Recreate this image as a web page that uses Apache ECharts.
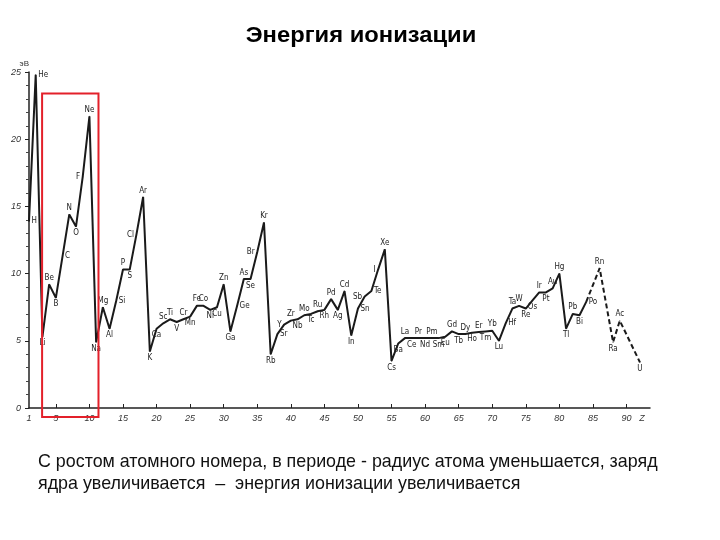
<!DOCTYPE html>
<html><head><meta charset="utf-8">
<script src="https://cdn.jsdelivr.net/npm/echarts@6/dist/echarts.min.js"></script>
<style>html,body{margin:0;padding:0;background:#fff}#c{width:720px;height:540px}</style>
</head><body><div id="c"></div>
<script>
// Element symbols Z = 1..84 (solid line)
var symbols = ['H','He','Li','Be','B','C','N','O','F','Ne','Na','Mg','Al','Si','P','S','Cl','Ar','K','Ca',
  'Sc','Ti','V','Cr','Mn','Fe','Co','Ni','Cu','Zn','Ga','Ge','As','Se','Br','Kr','Rb','Sr','Y','Zr',
  'Nb','Mo','Tc','Ru','Rh','Pd','Ag','Cd','In','Sn','Sb','Te','I','Xe','Cs','Ba','La','Ce','Pr','Nd',
  'Pm','Sm','Eu','Gd','Tb','Dy','Ho','Er','Tm','Yb','Lu','Hf','Ta','W','Re','Os','Ir','Pt','Au','Hg',
  'Tl','Pb','Bi','Po'];
// Ionization energy, eV
var energy = [13.9,24.8,5.3,9.2,8.2,11.3,14.4,13.5,17.2,21.7,4.9,7.5,5.9,8.0,10.3,10.3,12.9,15.7,4.2,5.9,
  6.3,6.6,6.4,6.6,6.8,7.6,7.6,7.3,7.5,9.2,5.7,7.6,9.6,9.6,11.6,13.8,4.0,5.5,6.2,6.5,
  6.6,6.9,7.0,7.2,7.3,8.1,7.3,8.7,5.4,7.4,8.3,8.7,10.3,11.8,3.5,4.8,5.2,5.2,5.2,5.2,
  5.2,5.2,5.3,5.7,5.5,5.5,5.6,5.65,5.7,5.75,5.0,6.3,7.4,7.6,7.4,8.0,8.6,8.6,8.9,10.0,
  5.9,7.0,6.9,7.9];
// Dashed part
var dashZ = [84, 86, 88, 89, 92];
var dashSymbols = ['', 'Rn', 'Ra', 'Ac', 'U'];
var dashEnergy = [7.9, 10.4, 4.9, 6.5, 3.4];
// Axis ticks
var xTicks = [5,10,15,20,25,30,35,40,45,50,55,60,65,70,75,80,85,90];
var xLabels = [1,5,10,15,20,25,30,35,40,45,50,55,60,65,70,75,80,85,90];
var title = 'Энергия ионизации';
var caption1 = 'С ростом атомного номера, в периоде - радиус атома уменьшается, заряд';
var caption2 = 'ядра увеличивается  –  энергия ионизации увеличивается';

// label placement (style)
var pos = {
  H:'right',He:'right',Li:'bottom',Be:'top',B:'bottom',C:'right',N:'top',O:'bottom',F:'left',Ne:'top',
  Na:'bottom',Mg:'top',Al:'bottom',Si:'right',P:'top',S:'bottom',Cl:'left',Ar:'top',K:'bottom',Ca:'bottom',
  Sc:'top',Ti:'top',V:'bottom',Cr:'top',Mn:'bottom',Fe:'top',Co:'top',Ni:'bottom',Cu:'bottom',Zn:'top',
  Ga:'bottom',Ge:'right',As:'top',Se:'bottom',Br:'left',Kr:'top',Rb:'bottom',Sr:'right',Y:'left',Zr:'top',
  Nb:'bottom',Mo:'top',Tc:'bottom',Ru:'top',Rh:'bottom',Pd:'top',Ag:'bottom',Cd:'top',In:'bottom',Sn:'right',
  Sb:'left',Te:'right',I:'left',Xe:'top',Cs:'bottom',Ba:'bottom',La:'top',Ce:'bottom',Pr:'top',Nd:'bottom',
  Pm:'top',Sm:'bottom',Eu:'bottom',Gd:'top',Tb:'bottom',Dy:'top',Ho:'bottom',Er:'top',Tm:'bottom',Yb:'top',
  Lu:'bottom',Hf:'right',Ta:'top',W:'top',Re:'bottom',Os:'bottom',Ir:'top',Pt:'bottom',Au:'top',Hg:'top',
  Tl:'bottom',Pb:'top',Bi:'bottom',Po:'right',Rn:'top',Ra:'bottom',Ac:'top',U:'bottom'
};

var solidData = energy.map(function(v,i){
  var s = symbols[i];
  return {value:[i+1, v], name:s, label:{position:pos[s]||'top'}};
});
var dashData = dashEnergy.map(function(v,i){
  var s = dashSymbols[i];
  return {value:[dashZ[i], v], name:s, label:{position:pos[s]||'top'}};
});

var labelStyle = {show:true, formatter:function(p){return p.name;}, fontSize:8, color:'#222',
  fontFamily:'DejaVu Sans Condensed, Liberation Sans Narrow, sans-serif', distance:2};

var chart = echarts.init(document.getElementById('c'), null, {renderer:'canvas'});
chart.setOption({
  animation:false,
  backgroundColor:'#fff',
  grid:{left:29, right:70, top:72, bottom:132},
  xAxis:{type:'value', min:1, max:93.5,
    axisLine:{lineStyle:{color:'#222', width:1.5}},
    axisTick:{show:true, inside:true, length:4, customValues:xTicks, lineStyle:{color:'#222'}},
    axisLabel:{customValues:xLabels.concat([92.3]), fontSize:9, fontStyle:'italic', color:'#333', margin:6,
      formatter:function(v){return v>91?'Z':String(v);}},
    splitLine:{show:false}},
  yAxis:{type:'value', min:0, max:25, interval:5, name:'эВ', nameGap:4,
    nameTextStyle:{fontSize:8, color:'#333', align:'right'},
    axisLine:{show:true, lineStyle:{color:'#222', width:1.5}},
    axisTick:{show:true, length:4, lineStyle:{color:'#222'}},
    minorTick:{show:true, splitNumber:5, length:3, lineStyle:{color:'#444'}},
    axisLabel:{fontSize:9, fontStyle:'italic', color:'#333', margin:8},
    splitLine:{show:false}},
  series:[
    {type:'line', data:solidData, symbol:'circle', symbolSize:1, showAllSymbol:true,
      itemStyle:{color:'#1a1a1a'}, lineStyle:{color:'#1a1a1a', width:2},
      label:labelStyle, labelLayout:{hideOverlap:false}},
    {type:'line', data:dashData, symbol:'circle', symbolSize:1, showAllSymbol:true,
      itemStyle:{color:'#1a1a1a'}, lineStyle:{color:'#1a1a1a', width:2, type:[5,3]},
      label:labelStyle, labelLayout:{hideOverlap:false}}
  ]
});

// Red highlight frame around period 2 (annotation)
var p1 = chart.convertToPixel({gridIndex:0}, [3.1, 23.4]);
var p2 = chart.convertToPixel({gridIndex:0}, [11.5, 0]);
chart.setOption({graphic:[
  {type:'text', x:361, y:36, scaleX:1.08, z:100,
    style:{text:title, x:0, y:0, align:'center', verticalAlign:'middle', fontSize:22, fontWeight:'bold', fill:'#000',
      fontFamily:'Liberation Sans, Arial, sans-serif'}},
  {type:'rect', shape:{x:p1[0]-1, y:p1[1], width:p2[0]-p1[0], height:p2[1]+9-p1[1]},
    style:{fill:'none', stroke:'#e3202a', lineWidth:2}, z:100},
  {type:'text', x:38, y:452, scaleX:0.94,
    style:{text:caption1, x:0, y:0, fontSize:19, fill:'#111', fontFamily:'Liberation Sans, Arial, sans-serif'}},
  {type:'text', x:38, y:474, scaleX:0.94,
    style:{text:caption2, x:0, y:0, fontSize:19, fill:'#111', fontFamily:'Liberation Sans, Arial, sans-serif'}}
]});
</script></body></html>
